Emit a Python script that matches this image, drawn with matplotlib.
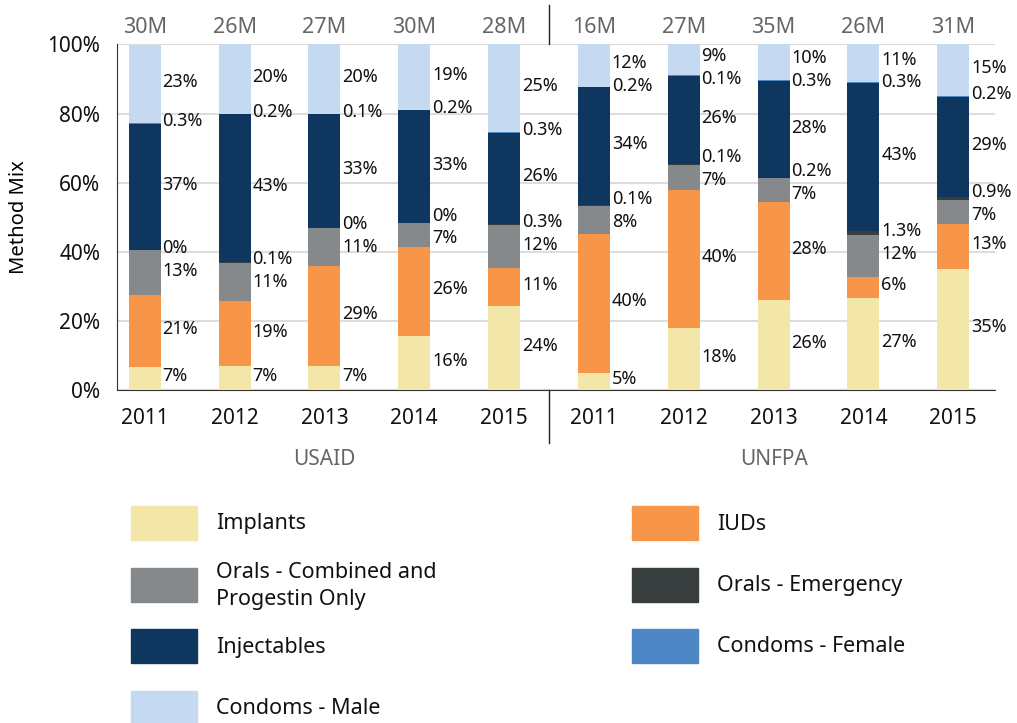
import numpy as np
import matplotlib.pyplot as plt
from matplotlib.patches import Rectangle

plt.rcParams['font.family'] = ['Noto Sans', 'DejaVu Sans']

# Datos de la figura (porcentajes de cada método por barra)
years = ['2011', '2012', '2013', '2014', '2015', '2011', '2012', '2013', '2014', '2015']
groups = ['USAID', 'UNFPA']
totals = ['30M', '26M', '27M', '30M', '28M', '16M', '27M', '35M', '26M', '31M']

methods = ['Implants', 'IUDs', 'Orals - Combined and\nProgestin Only', 'Orals - Emergency',
           'Injectables', 'Condoms - Female', 'Condoms - Male']
colors = ['#F2E7A9', '#F79548', '#86898C', '#383D3E', '#0F365F', '#4E87C5', '#C5D9F0']

implants = [6.75, 6.9, 6.9, 15.6, 24.4, 5.0, 17.9, 26.0, 26.7, 35.1]
iuds = [20.7, 18.8, 29.1, 25.8, 11.0, 40.1, 40.0, 28.4, 6.0, 12.9]
orals = [13.0, 11.1, 10.9, 6.9, 12.4, 8.2, 7.3, 6.8, 12.1, 7.0]
emergency = [0, 0.1, 0, 0, 0.3, 0.1, 0.1, 0.2, 1.3, 0.9]
injectables = [36.6, 42.9, 33.0, 32.6, 26.3, 34.2, 25.6, 27.9, 42.6, 29.0]
condoms_f = [0.3, 0.2, 0.1, 0.2, 0.3, 0.2, 0.1, 0.3, 0.3, 0.2]
condoms_m = [22.6, 20.0, 20.0, 18.9, 25.3, 12.2, 9.0, 10.4, 11.0, 14.9]

series = [implants, iuds, orals, emergency, injectables, condoms_f, condoms_m]


def fmt(v):
    if v == 0:
        return '0%'
    if v < 2:
        return f'{v:.1f}%'
    return f'{v:.0f}%'


def spread(c, gap=6.6, lo=2.5, hi=96.0):
    # separa las etiquetas que se solapan
    c = list(c)
    for _ in range(200):
        for i in range(1, len(c)):
            d = c[i] - c[i - 1]
            if d < gap:
                m = (gap - d) / 2
                c[i] += m
                c[i - 1] -= m
        c = [min(max(v, lo), hi) for v in c]
    return c


fig = plt.figure(figsize=(10.17, 7.23), dpi=100)
ax = fig.add_axes([0.115, 0.4606, 0.863, 0.478])

x = np.arange(len(years))
w = 0.356
bottom = np.zeros(len(years))
for vals, col in zip(series, colors):
    ax.bar(x, vals, w, bottom=bottom, color=col, zorder=3)
    bottom += np.array(vals)

# etiquetas de valores
for i in range(len(years)):
    vals = [s[i] for s in series]
    cum = np.cumsum([0] + vals)
    centers = [cum[k] + vals[k] / 2 for k in range(len(vals))]
    ys = spread(centers)
    for v, yv in zip(vals, ys):
        ax.text(x[i] + w / 2 + 0.02, yv + 0.6, fmt(v), ha='left', va='center',
                fontsize=13, color='#111111', zorder=4)

ax.set_xlim(-0.31, 9.46)
ax.set_ylim(0, 100)
ax.set_yticks([0, 20, 40, 60, 80, 100])
ax.set_yticklabels(['0%', '20%', '40%', '60%', '80%', '100%'])
ax.set_xticks(x)
ax.set_xticklabels(years)
ax.tick_params(axis='both', length=0, labelsize=15, colors='#111111')
ax.tick_params(axis='x', pad=13)
ax.tick_params(axis='y', pad=12)
ax.yaxis.grid(True, color='#DDDDDD', linewidth=1.5, zorder=0)
ax.set_axisbelow(True)
for s in ['top', 'right']:
    ax.spines[s].set_visible(False)
ax.spines['left'].set_color('#333333')
ax.spines['bottom'].set_color('#333333')
ax.set_ylabel('Method Mix', fontsize=14.5)
ax.yaxis.set_label_coords(-0.1, 0.5)

# totales arriba de las barras
for i, t in enumerate(totals):
    ax.text(x[i], 1.05, t, transform=ax.get_xaxis_transform(), ha='center',
            va='center', fontsize=15.5, color='#666666')

# nombres de los grupos
ax.text(2, -0.2, groups[0], transform=ax.get_xaxis_transform(), ha='center',
        va='center', fontsize=15, color='#666666')
ax.text(7, -0.2, groups[1], transform=ax.get_xaxis_transform(), ha='center',
        va='center', fontsize=15, color='#666666')

# separador entre grupos
tr = ax.get_xaxis_transform()
ax.plot([4.5, 4.5], [1.0, 1.114], transform=tr, color='#222222', lw=1, clip_on=False)
ax.plot([4.5, 4.5], [0.0, -0.153], transform=tr, color='#222222', lw=1, clip_on=False)

# leyenda manual
W, H = 1017, 723
rows = [523, 585, 646, 708]
order = [(0, 0, 0), (1, 1, 0), (2, 0, 1), (3, 1, 1), (4, 0, 2), (5, 1, 2), (6, 0, 3)]
for k, col_i, row_i in order:
    rx = 131 if col_i == 0 else 632
    yc = rows[row_i]
    fig.patches.append(Rectangle((rx / W, 1 - (yc + 17) / H), 66 / W, 34 / H,
                                 transform=fig.transFigure, color=colors[k]))
    fig.text((rx + 85) / W, 1 - (yc + 1) / H, methods[k], ha='left', va='center',
             fontsize=15.5, color='#111111', linespacing=1.35)

fig.savefig('out.png', dpi=100)
